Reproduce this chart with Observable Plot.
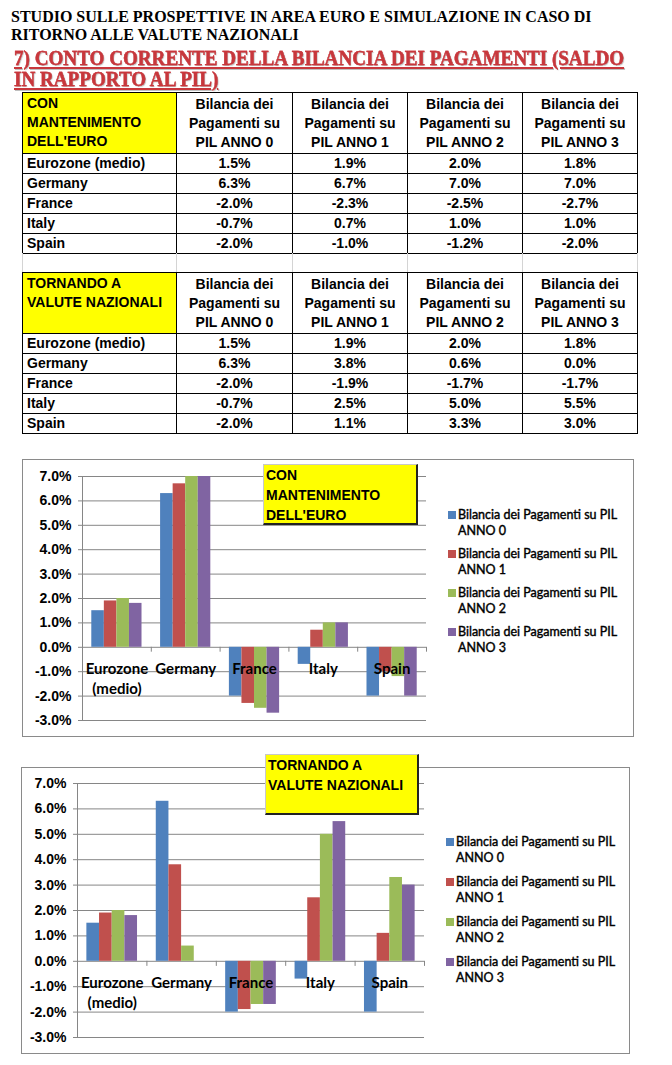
<!DOCTYPE html>
<html>
<head>
<meta charset="utf-8">
<script src="https://cdn.jsdelivr.net/npm/d3@7"></script>
<script src="https://cdn.jsdelivr.net/npm/@observablehq/plot@0.6"></script>
<style>
  body { margin: 0; background: #fff; }
  #page { position: relative; width: 672px; height: 1065px; overflow: hidden; background: #fff; font-family: Arial, "Liberation Sans", sans-serif; }
  .abs { position: absolute; }
  .t1 { left: 11px; top: 8px; font: bold 16px/18px "Liberation Serif", "Times New Roman", serif; color: #000; white-space: nowrap; }
  .t2 { left: 14px; top: 48px; font: bold 20px/21px "Liberation Serif", "Times New Roman", serif; color: #c8373c; text-decoration: underline; text-decoration-thickness: 1.5px; text-underline-offset: 1.5px; white-space: nowrap; text-shadow: 1px 1px 1px rgba(0,0,0,0.25); -webkit-text-stroke: 0.3px #c8373c; transform: scaleX(0.955); transform-origin: 0 0; }
  table.tb { position: absolute; border-collapse: collapse; table-layout: fixed; font: bold 14px Arial, "Liberation Sans", sans-serif; color: #000; }
  table.tb td { border: 1px solid #000; padding: 0; height: 19px; line-height: 19px; text-align: center; white-space: nowrap; overflow: hidden; }
  table.tb td.name { text-align: left; padding-left: 4px; }
  table.tb tr.hd td { height: 59px; line-height: 19px; }
  table.tb tr.hd td.yel { background: #ffff00; text-align: left; vertical-align: top; padding-left: 4px; padding-top: 1px; }
  .gap { position: absolute; border-left: 1px solid #d4d4d4; height: 19px; }
  .box { position: absolute; border: 1px solid #8a8a8a; box-sizing: border-box; }
  .note { position: absolute; background: #ffff00; box-sizing: border-box; border-top: 1px solid #c8c8c8; border-left: 1px solid #c8c8c8; border-right: 2px solid #222; border-bottom: 2px solid #222; font: bold 14px/20px Arial, "Liberation Sans", sans-serif; padding: 0 0 0 2px; color: #000; white-space: nowrap; }
  .leg { position: absolute; font: 12.5px/16px Lato, "Open Sans", sans-serif; color: #000; white-space: nowrap; -webkit-text-stroke: 0.4px #000; }
  .leg .sw { position: absolute; left: -10px; top: 4px; width: 8px; height: 8px; }
  .plotwrap { position: absolute; }
</style>
</head>
<body>
<div id="page">
  <div class="abs t1">STUDIO SULLE PROSPETTIVE IN AREA EURO E SIMULAZIONE IN CASO DI<br>RITORNO ALLE VALUTE NAZIONALI</div>
  <div class="abs t2">7) CONTO CORRENTE DELLA BILANCIA DEI PAGAMENTI (SALDO<br>IN RAPPORTO AL PIL)</div>
</div>
<script>
// ---- data ----
const countries = ["Eurozone (medio)", "Germany", "France", "Italy", "Spain"];
const chartLabels = ["Eurozone\n(medio)", "Germany", "France", "Italy", "Spain"];
const years = ["ANNO 0", "ANNO 1", "ANNO 2", "ANNO 3"];
const seriesNames = years.map(y => "Bilancia dei Pagamenti su PIL " + y);
const headerLines = years.map(y => ["Bilancia dei", "Pagamenti su", "PIL " + y]);
const scenarioEuro = ["CON", "MANTENIMENTO", "DELL'EURO"];
const scenarioNational = ["TORNANDO A", "VALUTE NAZIONALI"];
// values per country, per year (percent of GDP)
const euroEurozone = [1.5, 1.9, 2.0, 1.8];
const euroGermany  = [6.3, 6.7, 7.0, 7.0];
const euroFrance   = [-2.0, -2.3, -2.5, -2.7];
const euroItaly    = [-0.7, 0.7, 1.0, 1.0];
const euroSpain    = [-2.0, -1.0, -1.2, -2.0];
const natEurozone  = [1.5, 1.9, 2.0, 1.8];
const natGermany   = [6.3, 3.8, 0.6, 0.0];
const natFrance    = [-2.0, -1.9, -1.7, -1.7];
const natItaly     = [-0.7, 2.5, 5.0, 5.5];
const natSpain     = [-2.0, 1.1, 3.3, 3.0];
const yTicks = [-3, -2, -1, 0, 1, 2, 3, 4, 5, 6, 7];
const colors = ["#4f81bd", "#c0504d", "#9bbb59", "#8064a2"];

const euroData = [euroEurozone, euroGermany, euroFrance, euroItaly, euroSpain];
const natData = [natEurozone, natGermany, natFrance, natItaly, natSpain];
const fmt = v => v.toFixed(1) + "%";
const page = document.getElementById("page");

// ---- tables ----
function makeTable(top, scenario, data) {
  const t = document.createElement("table");
  t.className = "tb";
  t.style.left = "22px";
  t.style.top = top + "px";
  const widths = [154, 116, 115, 115, 115];
  const cg = document.createElement("colgroup");
  widths.forEach(w => { const c = document.createElement("col"); c.style.width = w + "px"; cg.appendChild(c); });
  t.appendChild(cg);
  const hr = document.createElement("tr"); hr.className = "hd";
  const y = document.createElement("td"); y.className = "yel"; y.innerHTML = scenario.join("<br>"); hr.appendChild(y);
  headerLines.forEach(h => { const td = document.createElement("td"); td.innerHTML = h.join("<br>"); hr.appendChild(td); });
  t.appendChild(hr);
  countries.forEach((c, ci) => {
    const tr = document.createElement("tr");
    const n = document.createElement("td"); n.className = "name"; n.textContent = c; tr.appendChild(n);
    data[ci].forEach(v => { const td = document.createElement("td"); td.textContent = fmt(v); tr.appendChild(td); });
    t.appendChild(tr);
  });
  page.appendChild(t);
}
makeTable(92, scenarioEuro, euroData);
makeTable(272, scenarioNational, natData);
// empty spreadsheet row between the tables
[22, 176, 292, 407, 522, 637].forEach(x => {
  const g = document.createElement("div"); g.className = "gap";
  g.style.left = x + "px"; g.style.top = "253px"; page.appendChild(g);
});

// ---- charts ----
function makeChart(cfg) {
  const {data, box, svg, note, noteLines, legend} = cfg;
  const b = document.createElement("div"); b.className = "box";
  Object.assign(b.style, {left: box[0] + "px", top: box[1] + "px", width: box[2] + "px", height: box[3] + "px"});
  page.appendChild(b);

  const rows = [];
  countries.forEach((c, ci) => years.forEach((yr, yi) => rows.push({ci, yi, year: yr, value: data[ci][yi]})));
  const band = d3.scaleBand().domain(years).range([0, 1]).paddingInner(0).paddingOuter(0.74);

  const p = Plot.plot({
    width: svg.width, height: svg.height,
    marginTop: svg.mt, marginBottom: svg.mb, marginLeft: svg.ml, marginRight: svg.mr,
    x: {domain: [0, countries.length], axis: null},
    y: {domain: [-3, 7], axis: null},
    style: {background: "transparent", overflow: "visible"},
    marks: [
      Plot.ruleY(yTicks, {stroke: "#868686", strokeWidth: 1}),
      Plot.axisY({ticks: yTicks, label: null, tickSize: 4, tickPadding: 7, tickFormat: fmt, stroke: "#868686", fill: "#000",
                  fontSize: 14, fontWeight: "bold", fontFamily: "Arial, 'Liberation Sans', sans-serif"}),
      Plot.rectY(rows, {
        x1: d => d.ci + band(d.year),
        x2: d => d.ci + band(d.year) + band.bandwidth(),
        y1: 0, y2: "value",
        fill: d => colors[d.yi]
      }),
      Plot.ruleX([0], {stroke: "#868686"}),
      Plot.ruleX(d3.range(1, countries.length + 1), {y1: 0, y2: -0.2, stroke: "#868686"}),
      Plot.text(chartLabels, {
        x: (d, i) => i + 0.5, y: 0, text: d => d,
        lineAnchor: "top", dy: 13, lineHeight: 1.33,
        fontSize: 15, fontWeight: "bold", fontFamily: "Lato, 'Open Sans', sans-serif", fill: "#000"
      })
    ]
  });
  const w = document.createElement("div"); w.className = "plotwrap";
  w.style.left = box[0] + "px"; w.style.top = box[1] + "px";
  w.appendChild(p);
  page.appendChild(w);

  const n = document.createElement("div"); n.className = "note";
  Object.assign(n.style, {left: note[0] + "px", top: note[1] + "px", width: note[2] + "px", height: note[3] + "px"});
  n.innerHTML = noteLines.join("<br>");
  page.appendChild(n);

  seriesNames.forEach((s, i) => {
    const l = document.createElement("div"); l.className = "leg";
    l.style.left = legend.x + "px"; l.style.top = (legend.tops[i]) + "px";
    l.innerHTML = `<span class="sw" style="background:${colors[i]}"></span>` + s.replace(" ANNO", "<br>ANNO");
    page.appendChild(l);
  });
}

makeChart({
  data: euroData,
  box: [22, 459, 612, 278],
  svg: {width: 430, height: 278, mt: 17, mb: 17, ml: 60, mr: 26},
  note: [263, 464, 155, 61],
  noteLines: scenarioEuro,
  legend: {x: 458, tops: [507, 546, 585, 624]}
});
makeChart({
  data: natData,
  box: [21, 767, 609, 287],
  svg: {width: 430, height: 287, mt: 16, mb: 17, ml: 56, mr: 27},
  note: [265, 754, 154, 61],
  noteLines: scenarioNational,
  legend: {x: 456, tops: [834, 874, 914, 954]}
});
</script>
</body>
</html>
